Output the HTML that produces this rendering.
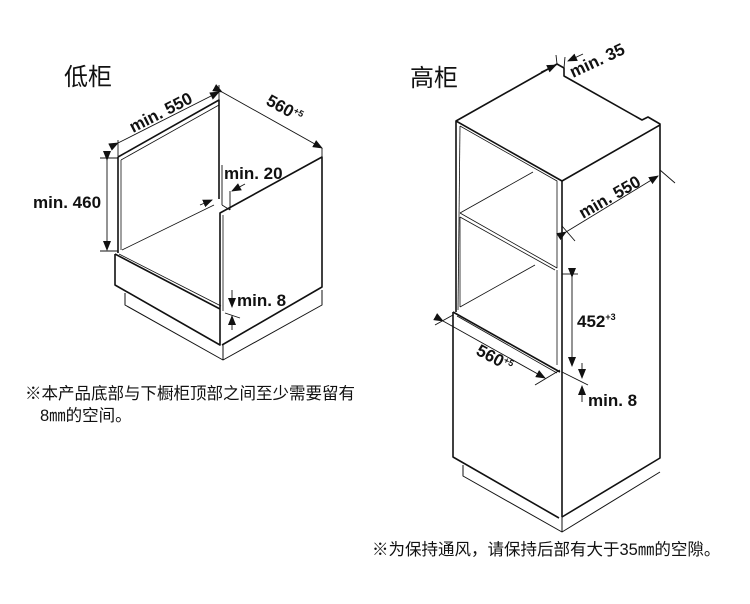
<!DOCTYPE html>
<html><head><meta charset="utf-8"><style>
html,body{margin:0;padding:0;background:#fff;}
svg{display:block;}
text{font-family:"Liberation Sans","Noto Sans CJK SC",sans-serif;fill:#111;}
.b{font-weight:bold;font-size:17px;}
.cn{font-size:24px;}
.n{font-size:16.5px;}
</style></head><body>
<svg width="750" height="604" viewBox="0 0 750 604" xmlns="http://www.w3.org/2000/svg">
<defs>
<marker id="a" markerWidth="10" markerHeight="8" refX="9" refY="4" orient="auto" markerUnits="userSpaceOnUse">
<path d="M0,0 L10,4 L0,8 z" fill="#111"/></marker>
</defs>
<g fill="none" stroke="#111" stroke-width="1.6" stroke-linejoin="round">
<path d="M118,157 L219,100 L219,199"/>
<path d="M118,157 L118,253"/>
<path d="M121,160 L219,105" stroke-width="0.8"/>
<path d="M121,160 L121,250" stroke-width="0.8"/>
<path d="M122,250 L214,205" stroke-width="0.8"/>
<path d="M220,311 L220,213 L322,157 L322,287 L222,345"/>
<path d="M223,311 L223,215" stroke-width="0.8"/>
<path d="M115,254 L220,309"/>
<path d="M119,254 L221,306" stroke-width="0.8"/>
<path d="M115,254 L115,285 L220,345 L220,311"/>
<path d="M125,293 L125,305 L223,360 L322,305 L322,290" stroke-width="1"/>
<path d="M223,345 L223,360" stroke-width="1"/>
</g>
<g stroke="#111" stroke-width="0.9" fill="none">
<line x1="118" y1="143" x2="219" y2="92" marker-start="url(#a)" marker-end="url(#a)"/>
<line x1="118" y1="157" x2="118" y2="140"/>
<line x1="219" y1="100" x2="219" y2="85"/>
<line x1="222" y1="92" x2="322" y2="148" marker-start="url(#a)" marker-end="url(#a)"/>
<line x1="322" y1="148" x2="322" y2="157"/>
<line x1="107" y1="160" x2="107" y2="250" marker-start="url(#a)" marker-end="url(#a)"/>
<line x1="100" y1="158" x2="118" y2="158"/>
<line x1="100" y1="251" x2="118" y2="251"/>
<line x1="222" y1="165" x2="222" y2="205"/>
<line x1="200" y1="205" x2="212" y2="200" marker-end="url(#a)"/>
<line x1="245" y1="184" x2="232" y2="191" marker-end="url(#a)"/>
<line x1="222" y1="205" x2="230" y2="210"/>
<line x1="230" y1="191" x2="230" y2="210"/>
<line x1="232" y1="290" x2="232" y2="307" marker-end="url(#a)"/>
<line x1="232" y1="330" x2="232" y2="316" marker-end="url(#a)"/>
<line x1="225" y1="313" x2="240" y2="318"/>
</g>
<text x="64" y="85" class="cn">低柜</text>
<text class="b" transform="translate(133,133) rotate(-27)">min. 550</text>
<text class="b" transform="translate(265,104) rotate(29)">560<tspan font-size="9" dy="-6">+5</tspan></text>
<text x="33" y="208" class="b">min. 460</text>
<text x="224" y="179" class="b">min. 20</text>
<text x="237" y="306" class="b">min. 8</text>
<text x="25" y="399" class="n">※本产品底部与下橱柜顶部之间至少需要留有</text>
<text x="40" y="421" class="n">8㎜的空间。</text>

<g fill="none" stroke="#111" stroke-width="1.6" stroke-linejoin="round">
<path d="M456,312 L456,121 L557,64 L564,68 L564,76 L642,120 L648,117 L660,124 L660,458 L562,517"/>
<path d="M456,121 L562,181 L660,125"/>
<path d="M562,181 L562,517"/>
<path d="M453,312 L453,457 L559,518"/>
<path d="M453,312 L560,372"/>
<path d="M457,316 L557,373" stroke-width="0.8"/>
<path d="M460,126 L458,310" stroke-width="0.8"/>
<path d="M460,126 L557,181 L557,268 L460,213" stroke-width="0.8"/>
<path d="M460,217 L555,270" stroke-width="0.8"/>
<path d="M460,217 L460,307" stroke-width="0.8"/>
<path d="M557,270 L557,365" stroke-width="0.8"/>
<path d="M460,213 L533,172" stroke-width="0.8"/>
<path d="M460,307 L535,265" stroke-width="0.8"/>
<path d="M463,465 L463,476 L562,532 L660,472" stroke-width="1"/>
<path d="M562,517 L562,532" stroke-width="1"/>
</g>
<g stroke="#111" stroke-width="0.9" fill="none">
<line x1="566" y1="232" x2="658" y2="176" marker-start="url(#a)" marker-end="url(#a)"/>
<line x1="562" y1="226" x2="575" y2="241"/>
<line x1="660" y1="170" x2="675" y2="183"/>
<line x1="572" y1="277" x2="572" y2="366" marker-start="url(#a)" marker-end="url(#a)"/>
<line x1="562" y1="274" x2="578" y2="274"/>
<line x1="443" y1="321" x2="545" y2="378" marker-start="url(#a)" marker-end="url(#a)"/>
<line x1="435" y1="325" x2="453" y2="315"/>
<line x1="535" y1="385" x2="560" y2="370"/>
<line x1="582" y1="363" x2="582" y2="378" marker-end="url(#a)"/>
<line x1="582" y1="402" x2="582" y2="386" marker-end="url(#a)"/>
<line x1="562" y1="372" x2="588" y2="385"/>
<line x1="541" y1="72" x2="556" y2="65" marker-end="url(#a)"/>
<line x1="583" y1="54" x2="568" y2="61" marker-end="url(#a)"/>
<line x1="557" y1="64" x2="556" y2="55"/>
<line x1="564" y1="68" x2="565" y2="57"/>
</g>
<text x="410" y="86" class="cn">高柜</text>
<text class="b" transform="translate(573,78) rotate(-25)">min. 35</text>
<text class="b" transform="translate(583,219) rotate(-30)">min. 550</text>
<text x="577" y="327" class="b">452<tspan font-size="9" dy="-7">+3</tspan></text>
<text class="b" transform="translate(475,354) rotate(28)">560<tspan font-size="9" dy="-6">+5</tspan></text>
<text x="588" y="406" class="b">min. 8</text>
<text x="372" y="555" class="n">※为保持通风，请保持后部有大于35㎜的空隙。</text>
</svg>
</body></html>
